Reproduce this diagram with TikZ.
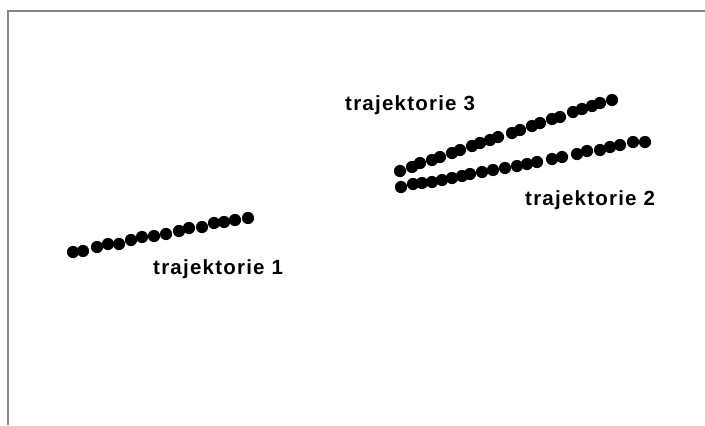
\documentclass[tikz,border=0pt]{standalone}
\usepackage{fontspec}
\setmainfont{Liberation Sans}
\newfontfamily\labelfont{Liberation Sans Bold}[LetterSpace=6]
\begin{document}
\begin{tikzpicture}[x=1bp,y=-1bp,
  framecol/.style={draw=black!48,line width=2bp},
  pt/.style={fill=black},
  trajlabel/.style={anchor=base west,inner sep=0pt,font=\labelfont\fontsize{20.5bp}{23bp}\selectfont}]
  \useasboundingbox (0,0) rectangle (705,425);
  % partial frame along the top and the left
  \draw[framecol] (7,11) -- (705,11);
  \draw[framecol] (8,10) -- (8,425);
  % trajectory 1
  \foreach \x/\y in {73/252,83/251,97/247,108/244,119/244,131/240,142/237,154/236,
                     166/234,179/231,189/228,202/227,214/223,224/222,235/220,248/218}
    \fill[pt] (\x,\y) circle (6.1);
  % trajectory 3
  \foreach \x/\y in {400/171,412/167,420/163,432/160,440/157,452/153,460/150,472/146,
                     480/143,490/140,498/137,512/133,520/130,532/126,540/123,552/119,
                     560/117,573/112,582/109,592/106,600/103,612/100}
    \fill[pt] (\x,\y) circle (6.1);
  % trajectory 2
  \foreach \x/\y in {401/187,413/184,422/183,432/182,442/180,452/178,462/176,470/174,
                     482/172,493/170,505/168,517/166,527/164,537/162,552/159,562/157,
                     577/154,587/151,600/150,610/147,620/145,633/142,645/142}
    \fill[pt] (\x,\y) circle (6.1);
  % labels
  \node[trajlabel] (l1) at (153,274) {trajektorie 1};
  \node[trajlabel] (l3) at (345,110) {trajektorie 3};
  \node[trajlabel] (l2) at (525,205) {trajektorie 2};
\end{tikzpicture}
\end{document}
